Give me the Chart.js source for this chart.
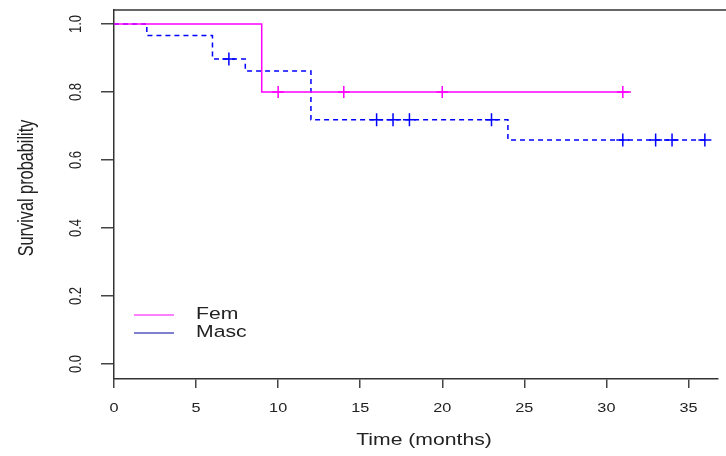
<!DOCTYPE html>
<html>
<head>
<meta charset="utf-8">
<script src="https://cdn.jsdelivr.net/npm/chart.js@4.4.1/dist/chart.umd.min.js"></script>
<style>
  html, body { margin: 0; padding: 0; background: #fff; overflow: hidden; }
  #wrap { width: 726px; height: 456px; }
</style>
</head>
<body>
<div id="wrap"><canvas id="km"></canvas></div>
<script>
// Kaplan-Meier steps (time in months, survival)
const femTimes = [0, 9, 31.5]
const femSurv = [1.0, 0.8, 0.8]
const femCensor = [10, 14, 20, 31]

const mascTimes = [0, 2, 6, 8, 12, 24, 36]
const mascSurv = [1.0, 0.966, 0.897, 0.862, 0.718, 0.659, 0.659]
const mascCensor = [7, 16, 17, 18, 23, 31, 33, 34, 36]

const xTicks = [0, 5, 10, 15, 20, 25, 30, 35]
const yTicks = [0, 0.2, 0.4, 0.6, 0.8, 1.0]
const yTickLabels = ['0.0', '0.2', '0.4', '0.6', '0.8', '1.0']
const groups = ['Fem', 'Masc']

const PINK = '#ff00ff'
const BLUE = '#0000ff'
const STRETCH = 1.3
const FONT = '"Liberation Sans", Arial, sans-serif'

// survival value at time t
function survAt (times, surv, t) {
  let s = surv[0]
  for (let i = 0; i < times.length; i++) if (times[i] <= t) s = surv[i]
  return s
}

const steps = (times, surv) => times.map((t, i) => ({ x: t, y: surv[i] }))
const marks = (times, surv, cens) => cens.map(t => ({ x: t, y: survAt(times, surv, t) }))

const textPlugin = {
  id: 'rtext',
  afterDraw (chart) {
    const ctx = chart.ctx
    const xs = chart.scales.x
    const ys = chart.scales.y
    const area = chart.chartArea
    ctx.save()
    // top frame
    ctx.strokeStyle = '#333'
    ctx.lineWidth = 1.5
    ctx.beginPath()
    ctx.moveTo(area.left, area.top)
    ctx.lineTo(chart.width, area.top)
    ctx.stroke()

    ctx.fillStyle = '#222'
    ctx.textAlign = 'center'
    ctx.textBaseline = 'middle'

    // x tick labels
    ctx.font = '12.5px ' + FONT
    xTicks.forEach(v => {
      ctx.save()
      ctx.translate(xs.getPixelForValue(v), 409)
      ctx.scale(STRETCH, 1)
      ctx.fillText(String(v), 0, 0)
      ctx.restore()
    })

    // y tick labels (rotated)
    ctx.font = '13px ' + FONT
    yTicks.forEach((v, i) => {
      ctx.save()
      ctx.translate(76, ys.getPixelForValue(v))
      ctx.rotate(-Math.PI / 2)
      ctx.scale(1, STRETCH)
      ctx.fillText(yTickLabels[i], 0, 0)
      ctx.restore()
    })

    // axis titles
    ctx.font = '16.3px ' + FONT
    ctx.save()
    ctx.translate(424, 441)
    ctx.scale(STRETCH, 1)
    ctx.fillText('Time (months)', 0, 0)
    ctx.restore()

    ctx.save()
    ctx.translate(27, 188)
    ctx.rotate(-Math.PI / 2)
    ctx.scale(1, STRETCH)
    ctx.fillText('Survival probability', 0, 0)
    ctx.restore()

    // legend
    const legendColors = [PINK, '#0000a0']
    groups.forEach((g, i) => {
      const y = 315 + i * 18
      ctx.strokeStyle = legendColors[i]
      ctx.lineWidth = 1
      ctx.beginPath()
      ctx.moveTo(134, y)
      ctx.lineTo(174, y)
      ctx.stroke()
      ctx.save()
      ctx.translate(196, y)
      ctx.scale(STRETCH, 1)
      ctx.textAlign = 'left'
      ctx.fillText(g, 0, 0)
      ctx.restore()
    })
    ctx.restore()
  },
}

new Chart(document.getElementById('km'), {
  type: 'line',
  data: {
    datasets: [
      {
        label: 'Fem',
        data: steps(femTimes, femSurv),
        stepped: 'before',
        borderColor: PINK,
        borderWidth: 1.5,
        pointRadius: 0,
        fill: false,
      },
      {
        label: 'Masc',
        data: steps(mascTimes, mascSurv),
        stepped: 'before',
        borderColor: BLUE,
        borderWidth: 1.5,
        borderDash: [5, 4],
        pointRadius: 0,
        fill: false,
      },
      {
        label: 'Fem censored',
        data: marks(femTimes, femSurv, femCensor),
        showLine: false,
        pointStyle: 'cross',
        pointRadius: 6,
        borderColor: PINK,
        borderWidth: 1.5,
      },
      {
        label: 'Masc censored',
        data: marks(mascTimes, mascSurv, mascCensor),
        showLine: false,
        pointStyle: 'cross',
        pointRadius: 6.5,
        borderColor: BLUE,
        borderWidth: 1.5,
      },
    ],
  },
  options: {
    responsive: true,
    maintainAspectRatio: false,
    animation: false,
    layout: { padding: { top: 10, right: 0, left: 0, bottom: 0 } },
    plugins: {
      legend: { display: false },
      tooltip: { enabled: false },
    },
    scales: {
      x: {
        type: 'linear',
        min: 0,
        max: 36.8,
        afterBuildTicks: scale => { scale.ticks = xTicks.map(v => ({ value: v })) },
        afterFit: scale => {
          scale.height = 77
          scale.paddingLeft = 0
          scale.paddingRight = 0
        },
        ticks: { display: false },
        grid: { drawOnChartArea: false, tickLength: 9, color: '#444', lineWidth: 1.5 },
        border: { color: '#333', width: 1.5 },
      },
      y: {
        type: 'linear',
        min: -0.044,
        max: 1.041,
        afterBuildTicks: scale => { scale.ticks = yTicks.map(v => ({ value: v })) },
        afterFit: scale => {
          scale.width = 114
          scale.paddingTop = 0
          scale.paddingBottom = 0
        },
        ticks: { display: false },
        grid: { drawOnChartArea: false, tickLength: 13, color: '#444', lineWidth: 1.5 },
        border: { color: '#333', width: 1.5 },
      },
    },
  },
  plugins: [textPlugin],
})
</script>
</body>
</html>
